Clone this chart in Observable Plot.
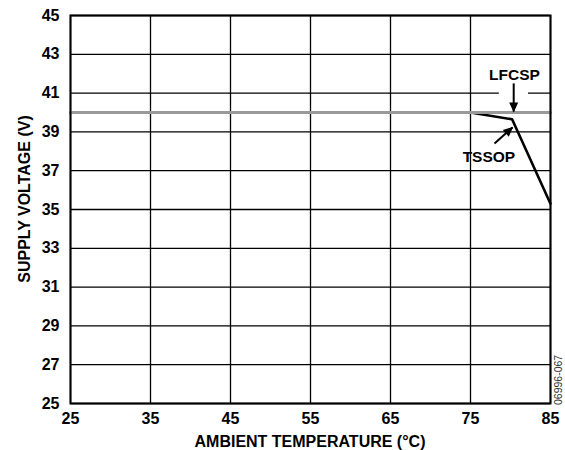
<!DOCTYPE html>
<html><head><meta charset="utf-8">
<script src="https://cdn.jsdelivr.net/npm/d3@7"></script>
<script src="https://cdn.jsdelivr.net/npm/@observablehq/plot@0.6"></script>
<style>body{margin:0;background:#fff}</style>
</head><body><div id="chart"></div>
<script>
const xTicks = [25, 35, 45, 55, 65, 75, 85];
const yTicks = [25, 27, 29, 31, 33, 35, 37, 39, 41, 43, 45];
const lfcspTemp = [25, 85];
const lfcspVolt = [40, 40];
const tssopTemp = [25, 75, 80.2, 85];
const tssopVolt = [40, 40, 39.65, 35.3];
const labelNames = ["LFCSP", "TSSOP"];
const labelTemp = [80.5, 77.3];
const labelVolt = [41.95, 37.7];
const arrowFromTemp = [80.4, 78.0];
const arrowFromVolt = [41.5, 38.4];
const arrowToTemp = [80.4, 80.25];
const arrowToVolt = [40.05, 39.23];
const gapTemp = [78.6, 82.25];
const gapVolt = 41;
const xTitle = "AMBIENT TEMPERATURE (°C)";
const yTitle = "SUPPLY VOLTAGE (V)";
const codeText = "06996-067";

const lfcsp = lfcspTemp.map((t, i) => ({t, v: lfcspVolt[i]}));
const tssop = tssopTemp.map((t, i) => ({t, v: tssopVolt[i]}));
const labels = labelNames.map((name, i) => ({name, t: labelTemp[i], v: labelVolt[i]}));
const arrows = arrowFromTemp.map((t1, i) => ({t1, v1: arrowFromVolt[i], t2: arrowToTemp[i], v2: arrowToVolt[i]}));

const font = "'Liberation Sans', Arial, sans-serif";
const chart = Plot.plot({
  width: 565, height: 450,
  marginLeft: 70, marginRight: 15, marginTop: 15, marginBottom: 47,
  style: {fontFamily: font, fontWeight: "bold", fontSize: "16px", color: "#000", background: "#fff"},
  x: {domain: [25, 85], label: null},
  y: {domain: [25, 45], label: null},
  marks: [
    Plot.gridX(xTicks, {stroke: "#000", strokeOpacity: 1, strokeWidth: 1.3}),
    Plot.gridY(yTicks, {stroke: "#000", strokeOpacity: 1, strokeWidth: 1.3}),
    Plot.ruleY([gapVolt], {x1: gapTemp[0], x2: gapTemp[1], stroke: "#fff", strokeWidth: 4}),
    Plot.line(tssop, {x: "t", y: "v", stroke: "#000", strokeWidth: 2.6}),
    Plot.line(lfcsp, {x: "t", y: "v", stroke: "#9a9a9a", strokeWidth: 3}),
    Plot.link(arrows, {x1: "t1", y1: "v1", x2: "t2", y2: "v2", stroke: "#000", strokeWidth: 2, className: "ann-arrow"}),
    Plot.text(labels, {x: "t", y: "v", text: "name", fontSize: 15.5, fontWeight: "bold", fill: "#000"}),
    Plot.frame({stroke: "#000", strokeWidth: 2}),
    Plot.axisX(xTicks, {tickSize: 0, tickPadding: 9, fontSize: 16, fontWeight: "bold", label: null}),
    Plot.axisY(yTicks, {tickSize: 0, tickPadding: 11, fontSize: 16, fontWeight: "bold", label: null})
  ]
});
document.getElementById("chart").appendChild(chart);
const svg = d3.select(chart);
const defs = svg.insert("defs", ":first-child");
defs.append("marker")
  .attr("id", "ahead").attr("viewBox", "0 -5 10 10")
  .attr("refX", 9).attr("refY", 0)
  .attr("markerUnits", "userSpaceOnUse")
  .attr("markerWidth", 12).attr("markerHeight", 10)
  .attr("orient", "auto")
  .append("path").attr("d", "M0,-4.5L10,0L0,4.5Z").attr("fill", "#000");
svg.selectAll(".ann-arrow path, .ann-arrow line").attr("marker-end", "url(#ahead)");

const titles = svg.append("g").attr("font-family", font);
titles.append("text").text(xTitle)
  .attr("x", 310).attr("y", 447).attr("text-anchor", "middle")
  .attr("font-size", 16).attr("font-weight", "bold").attr("fill", "#000");
titles.append("text").text(yTitle)
  .attr("transform", "translate(30,199) rotate(-90)").attr("text-anchor", "middle")
  .attr("font-size", 16).attr("font-weight", "bold").attr("fill", "#000");
titles.append("text").text(codeText)
  .attr("transform", "translate(562,405) rotate(-90)").attr("text-anchor", "start")
  .attr("font-size", 10.5).attr("font-weight", "normal").attr("fill", "#333");
</script>
</body></html>
